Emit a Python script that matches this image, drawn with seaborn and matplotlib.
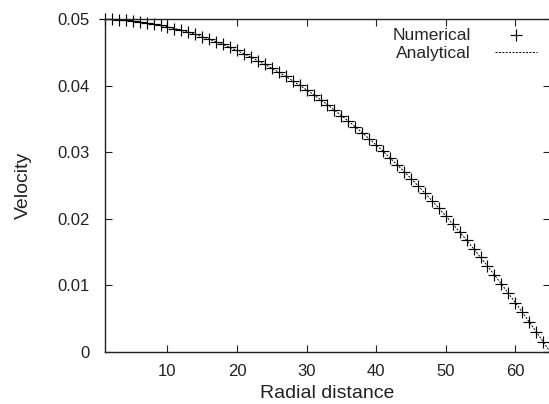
import pandas as pd
import seaborn as sns
import matplotlib.pyplot as plt

# Radial positions and velocities
radial = list(range(1, 66))
numerical = [
    0.04999, 0.04995, 0.04989, 0.04981, 0.04970, 0.04957, 0.04942, 0.04924,
    0.04904, 0.04882, 0.04857, 0.04830, 0.04800, 0.04768, 0.04734, 0.04697,
    0.04658, 0.04617, 0.04573, 0.04527, 0.04478, 0.04427, 0.04374, 0.04318,
    0.04260, 0.04200, 0.04137, 0.04072, 0.04005, 0.03935, 0.03863, 0.03788,
    0.03711, 0.03632, 0.03550, 0.03466, 0.03380, 0.03291, 0.03200, 0.03107,
    0.03011, 0.02912, 0.02812, 0.02709, 0.02604, 0.02496, 0.02386, 0.02273,
    0.02159, 0.02041, 0.01922, 0.01800, 0.01676, 0.01549, 0.01420, 0.01289,
    0.01155, 0.01019, 0.00880, 0.00740, 0.00596, 0.00451, 0.00303, 0.00153,
    0.00000,
]
analytical = list(numerical)

x_ticks = [10, 20, 30, 40, 50, 60]
y_ticks = [0, 0.01, 0.02, 0.03, 0.04, 0.05]
y_tick_labels = ['0', '0.01', '0.02', '0.03', '0.04', '0.05']

df = pd.DataFrame({'r': radial, 'num': numerical, 'ana': analytical})

sns.set_style('ticks')
plt.rcParams['font.family'] = ['Liberation Sans', 'DejaVu Sans']

fig = plt.figure(figsize=(5.49, 4.04), dpi=100)
ax = fig.add_axes([0.191, 0.129, 0.811, 0.824])

sns.lineplot(data=df, x='r', y='ana', ax=ax, color='black', linewidth=0.7,
             label='Analytical', zorder=1)
ax.lines[-1].set_dashes((2, 1.5))
sns.scatterplot(data=df, x='r', y='num', ax=ax, marker='+', color='black',
                s=65, linewidth=0.85, label='Numerical', zorder=2, clip_on=False)

ax.set_xlim(1, 65)
ax.set_ylim(0, 0.05)
ax.set_xticks(x_ticks)
ax.set_yticks(y_ticks)
ax.set_yticklabels(y_tick_labels)
ax.tick_params(direction='in', top=True, right=True, length=5, width=0.8,
               labelsize=12, colors='#222222')
ax.tick_params(axis='y', pad=11)
ax.tick_params(axis='x', pad=9)
for s in ax.spines.values():
    s.set_linewidth(1.0)
    s.set_color('#222222')

ax.set_xlabel('Radial distance', fontsize=14, labelpad=4, color='#222222')
ax.set_ylabel('Velocity', fontsize=14, labelpad=18, color='#222222')

handles, labels = ax.get_legend_handles_labels()
order = [labels.index('Numerical'), labels.index('Analytical')]
ax.legend([handles[i] for i in order], [labels[i] for i in order],
          loc='upper right', frameon=False, markerfirst=False, fontsize=12.5,
          handlelength=2.4, handletextpad=1.4, borderaxespad=0.1,
          labelspacing=0.2, bbox_to_anchor=(0.99, 1.0))

fig.savefig('out.png', dpi=100)
